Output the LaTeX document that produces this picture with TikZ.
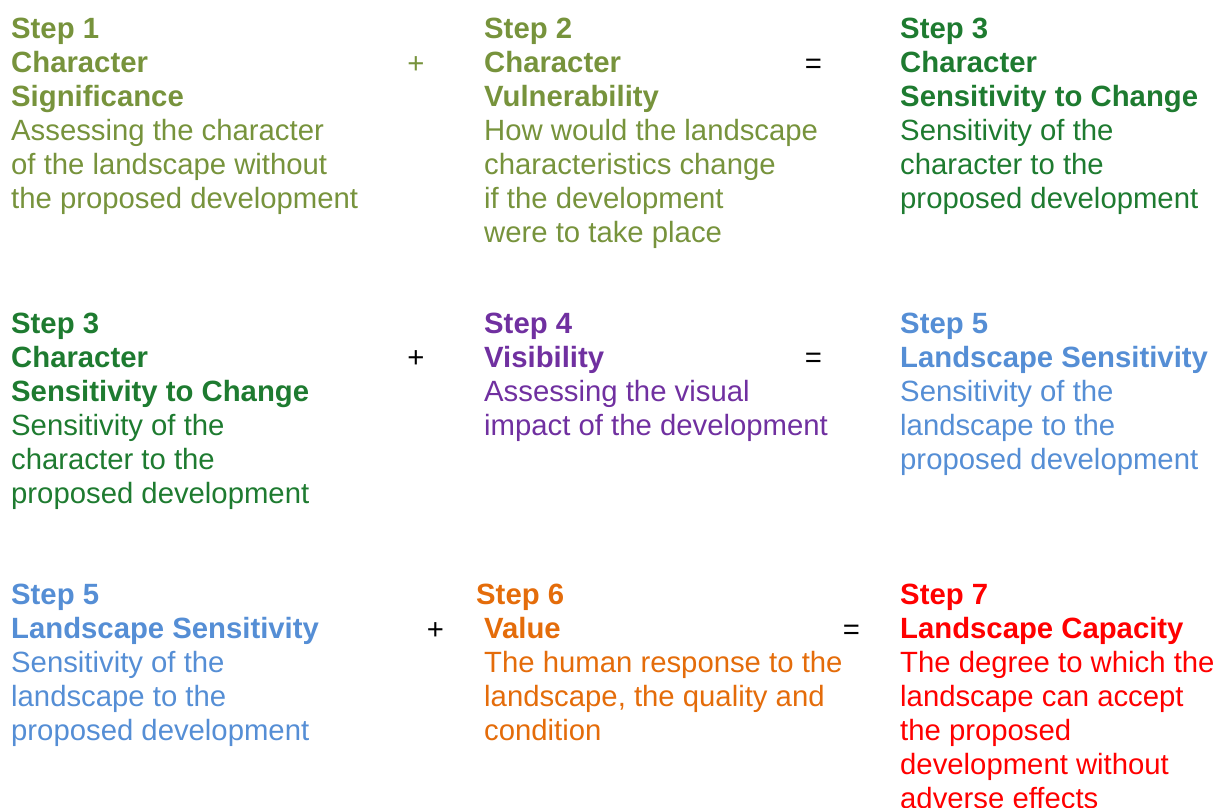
\documentclass[tikz,border=0pt]{standalone}
\usepackage{fontspec}
\setmainfont{Liberation Sans}
\definecolor{olive}{HTML}{77933C}
\definecolor{darkgreen}{HTML}{1E7B30}
\definecolor{violet}{HTML}{7030A0}
\definecolor{skyblue}{HTML}{558ED5}
\definecolor{amber}{HTML}{E46C0A}
\definecolor{brightred}{HTML}{FF0000}
\tikzset{
  stepbox/.style={anchor=north west,inner sep=0pt,align=left,font=\fontsize{29.3}{34}\selectfont},
  sign/.style={inner sep=0pt,font=\fontsize{29.3}{34}\selectfont}
}
\begin{document}
\begin{tikzpicture}[x=1pt,y=-1pt]
      \useasboundingbox (0,0) rectangle (1216,807);
      \node[stepbox,olive] (sig) at (11,14) {\strut\textbf{Step 1}\\\textbf{Character}\\\textbf{Significance}\\Assessing the character\\of the landscape without\\the proposed development};
      \node[stepbox,olive] (vul) at (484,14) {\strut\textbf{Step 2}\\\textbf{Character}\\\textbf{Vulnerability}\\How would the landscape\\characteristics change\\if the development\\were to take place};
      \node[stepbox,darkgreen] (sens) at (900,14) {\strut\textbf{Step 3}\\\textbf{Character}\\\textbf{Sensitivity to Change}\\Sensitivity of the\\character to the\\proposed development};
      \node[sign,olive] (plusA) at (416,65) {+};
      \node[sign] (eqA) at (813.5,66) {=};
      \node[stepbox,darkgreen] (sensB) at (11,309.5) {\strut\textbf{Step 3}\\\textbf{Character}\\\textbf{Sensitivity to Change}\\Sensitivity of the\\character to the\\proposed development};
      \node[stepbox,violet] (vis) at (484,309.5) {\strut\textbf{Step 4}\\\textbf{Visibility}\\Assessing the visual\\impact of the development};
      \node[stepbox,skyblue] (land) at (900,309.5) {\strut\textbf{Step 5}\\\textbf{Landscape Sensitivity}\\Sensitivity of the\\landscape to the\\proposed development};
      \node[sign] (plusB) at (416,359.5) {+};
      \node[sign] (eqB) at (813.5,360.5) {=};
      \node[stepbox,skyblue] (landB) at (11,580) {\strut\textbf{Step 5}\\\textbf{Landscape Sensitivity}\\Sensitivity of the\\landscape to the\\proposed development};
      \node[stepbox,amber] (val) at (484,580) {\strut\hspace*{-8pt}\textbf{Step 6}\\\textbf{Value}\\The human response to the\\landscape, the quality and\\condition};
      \node[sign] (plusC) at (435.5,631) {+};
      \node[sign] (eqC) at (851.5,632) {=};
      \node[stepbox,brightred] (cap) at (900,580) {\strut\textbf{Step 7}\\\textbf{Landscape Capacity}\\The degree to which the\\landscape can accept\\the proposed\\development without\\adverse effects};
    \end{tikzpicture}
\end{document}
